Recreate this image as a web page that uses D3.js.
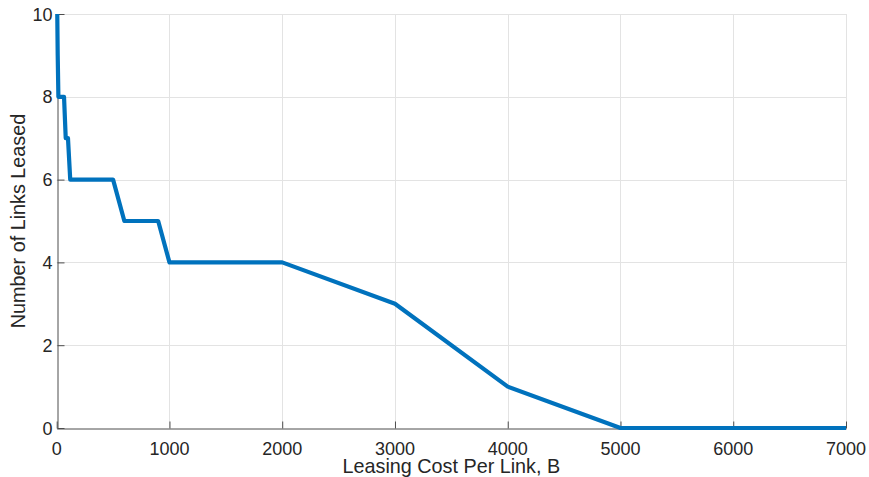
<!DOCTYPE html>
<html>
<head>
<meta charset="utf-8">
<script src="https://cdn.jsdelivr.net/npm/d3@7"></script>
<style>
  body { margin: 0; background: #fff; }
  text { font-family: "Liberation Sans", Arial, sans-serif; fill: #262626; }
</style>
</head>
<body>
<div class="content"></div>
<script>
const SVG_WIDTH = 869;
const SVG_HEIGHT = 477;
const MARGIN = {left: 56.7, right: 23, top: 14, bottom: 49};

// leasing cost per link B vs number of links leased
const costs = [5, 9, 15, 65, 80, 100, 120, 200, 300, 400, 500, 600, 900, 1000, 2000, 3000, 4000, 5000, 6000, 7000];
const links = [10, 9, 8, 8, 7, 7, 6, 6, 6, 6, 6, 5, 5, 4, 4, 3, 1, 0, 0, 0];
const xTicks = [0, 1000, 2000, 3000, 4000, 5000, 6000, 7000];
const yTicks = [0, 2, 4, 6, 8, 10];

const svg = d3.select(".content").append("svg")
    .attr("width", SVG_WIDTH).attr("height", SVG_HEIGHT);

const x = d3.scaleLinear().domain([0, 7000]).range([MARGIN.left, SVG_WIDTH - MARGIN.right]);
const y = d3.scaleLinear().domain([0, 10]).range([SVG_HEIGHT - MARGIN.bottom, MARGIN.top]);

// grid lines
svg.append("g").selectAll("line")
    .data(xTicks.slice(1))
    .join("line")
    .attr("x1", d => Math.round(x(d)) + 0.5).attr("x2", d => Math.round(x(d)) + 0.5)
    .attr("y1", y(10)).attr("y2", y(0))
    .attr("stroke", "#e3e3e3");
svg.append("g").selectAll("line")
    .data(yTicks.slice(1))
    .join("line")
    .attr("x1", x(0)).attr("x2", x(7000))
    .attr("y1", d => Math.round(y(d)) + 0.5).attr("y2", d => Math.round(y(d)) + 0.5)
    .attr("stroke", "#e3e3e3");

// axes, ticks pointing inward like matlab
const xAxis = svg.append("g")
    .attr("transform", "translate(0," + (Math.round(y(0)) + 0.5) + ")")
    .call(d3.axisTop(x).tickValues(xTicks).tickSize(7).tickSizeOuter(0).tickFormat(d3.format("d")));
xAxis.selectAll("text").remove();
xAxis.append("g").selectAll("text")
    .data(xTicks)
    .join("text")
    .attr("x", d => x(d)).attr("y", 26.5)
    .attr("text-anchor", "middle")
    .style("font-size", "18px")
    .text(d => d);

const yAxis = svg.append("g")
    .attr("transform", "translate(" + (Math.round(x(0)) + 0.5) + ",0)")
    .call(d3.axisRight(y).tickValues(yTicks).tickSize(7).tickSizeOuter(0));
yAxis.selectAll("text").remove();
yAxis.append("g").selectAll("text")
    .data(yTicks)
    .join("text")
    .attr("x", -5).attr("y", d => y(d) + 6.5)
    .attr("text-anchor", "end")
    .style("font-size", "18px")
    .text(d => d);

svg.selectAll(".domain, .tick line").attr("stroke", "#4d4d4d");

// axis labels
svg.append("text")
    .attr("x", x(3500)).attr("y", 473)
    .attr("text-anchor", "middle")
    .style("font-size", "19.8px")
    .text("Leasing Cost Per Link, B");
svg.append("text")
    .attr("transform", "translate(25," + y(5) + ") rotate(-90)")
    .attr("text-anchor", "middle")
    .style("font-size", "19.8px")
    .text("Number of Links Leased");

// the curve
const line = d3.line().x((d, i) => x(costs[i])).y(d => y(d));
svg.append("path")
    .datum(links)
    .attr("d", line)
    .attr("fill", "none")
    .attr("stroke", "#0072BD")
    .attr("stroke-width", 4.2)
    .attr("stroke-linejoin", "round");
</script>
</body>
</html>
